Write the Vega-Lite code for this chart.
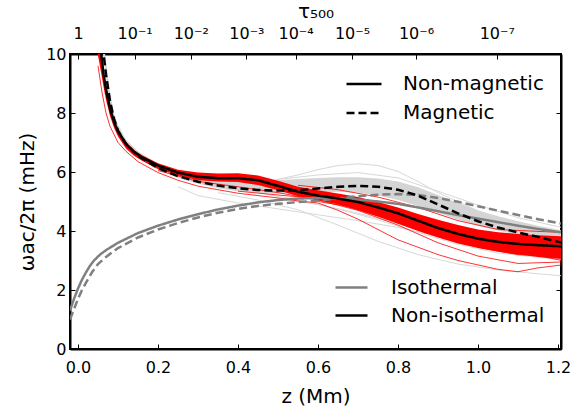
{
  "$schema": "https://vega.github.io/schema/vega-lite/v6.json",
  "width": 491,
  "height": 295,
  "autosize": {"type": "none"},
  "padding": {"left": 70, "top": 54, "right": 12, "bottom": 60},
  "background": "white",
  "config": {
    "font": "DejaVu Sans",
    "view": {"stroke": "black", "strokeWidth": 2},
    "axis": {"grid": false, "domainColor": "black", "domainWidth": 2, "tickColor": "black", "tickWidth": 1, "tickSize": -5, "labelColor": "black", "titleColor": "black", "labelFontSize": 16, "titleFontSize": 20, "titleFontWeight": "normal", "labelFont": "DejaVu Sans", "titleFont": "DejaVu Sans", "labelFlush": false, "labelOverlap": false},
    "legend": {"labelFontSize": 20, "labelFont": "DejaVu Sans", "labelColor": "black", "symbolType": "stroke", "symbolStrokeWidth": 2.5, "padding": 0, "offset": 0}
  },
  "datasets": {
    "thick": [
      {"z": 0.045, "w": 11.5, "atm": "Non-isothermal", "field": "Non-magnetic"},
      {"z": 0.052, "w": 10.6, "atm": "Non-isothermal", "field": "Non-magnetic"},
      {"z": 0.058, "w": 10.0, "atm": "Non-isothermal", "field": "Non-magnetic"},
      {"z": 0.064, "w": 9.3, "atm": "Non-isothermal", "field": "Non-magnetic"},
      {"z": 0.07, "w": 8.8, "atm": "Non-isothermal", "field": "Non-magnetic"},
      {"z": 0.08, "w": 8.15, "atm": "Non-isothermal", "field": "Non-magnetic"},
      {"z": 0.09, "w": 7.7, "atm": "Non-isothermal", "field": "Non-magnetic"},
      {"z": 0.1, "w": 7.38, "atm": "Non-isothermal", "field": "Non-magnetic"},
      {"z": 0.12, "w": 6.95, "atm": "Non-isothermal", "field": "Non-magnetic"},
      {"z": 0.14, "w": 6.68, "atm": "Non-isothermal", "field": "Non-magnetic"},
      {"z": 0.16, "w": 6.5, "atm": "Non-isothermal", "field": "Non-magnetic"},
      {"z": 0.2, "w": 6.22, "atm": "Non-isothermal", "field": "Non-magnetic"},
      {"z": 0.25, "w": 5.98, "atm": "Non-isothermal", "field": "Non-magnetic"},
      {"z": 0.3, "w": 5.84, "atm": "Non-isothermal", "field": "Non-magnetic"},
      {"z": 0.35, "w": 5.79, "atm": "Non-isothermal", "field": "Non-magnetic"},
      {"z": 0.4, "w": 5.79, "atm": "Non-isothermal", "field": "Non-magnetic"},
      {"z": 0.45, "w": 5.72, "atm": "Non-isothermal", "field": "Non-magnetic"},
      {"z": 0.5, "w": 5.53, "atm": "Non-isothermal", "field": "Non-magnetic"},
      {"z": 0.55, "w": 5.33, "atm": "Non-isothermal", "field": "Non-magnetic"},
      {"z": 0.6, "w": 5.2, "atm": "Non-isothermal", "field": "Non-magnetic"},
      {"z": 0.65, "w": 5.1, "atm": "Non-isothermal", "field": "Non-magnetic"},
      {"z": 0.7, "w": 4.98, "atm": "Non-isothermal", "field": "Non-magnetic"},
      {"z": 0.75, "w": 4.8, "atm": "Non-isothermal", "field": "Non-magnetic"},
      {"z": 0.8, "w": 4.6, "atm": "Non-isothermal", "field": "Non-magnetic"},
      {"z": 0.85, "w": 4.35, "atm": "Non-isothermal", "field": "Non-magnetic"},
      {"z": 0.9, "w": 4.1, "atm": "Non-isothermal", "field": "Non-magnetic"},
      {"z": 0.95, "w": 3.9, "atm": "Non-isothermal", "field": "Non-magnetic"},
      {"z": 1.0, "w": 3.74, "atm": "Non-isothermal", "field": "Non-magnetic"},
      {"z": 1.05, "w": 3.63, "atm": "Non-isothermal", "field": "Non-magnetic"},
      {"z": 1.1, "w": 3.56, "atm": "Non-isothermal", "field": "Non-magnetic"},
      {"z": 1.15, "w": 3.52, "atm": "Non-isothermal", "field": "Non-magnetic"},
      {"z": 1.21, "w": 3.48, "atm": "Non-isothermal", "field": "Non-magnetic"},

      {"z": 0.05, "w": 11.5, "atm": "Non-isothermal", "field": "Magnetic"},
      {"z": 0.058, "w": 10.7, "atm": "Non-isothermal", "field": "Magnetic"},
      {"z": 0.064, "w": 10.0, "atm": "Non-isothermal", "field": "Magnetic"},
      {"z": 0.07, "w": 9.3, "atm": "Non-isothermal", "field": "Magnetic"},
      {"z": 0.08, "w": 8.4, "atm": "Non-isothermal", "field": "Magnetic"},
      {"z": 0.09, "w": 7.8, "atm": "Non-isothermal", "field": "Magnetic"},
      {"z": 0.1, "w": 7.4, "atm": "Non-isothermal", "field": "Magnetic"},
      {"z": 0.12, "w": 6.95, "atm": "Non-isothermal", "field": "Magnetic"},
      {"z": 0.15, "w": 6.55, "atm": "Non-isothermal", "field": "Magnetic"},
      {"z": 0.2, "w": 6.13, "atm": "Non-isothermal", "field": "Magnetic"},
      {"z": 0.25, "w": 5.86, "atm": "Non-isothermal", "field": "Magnetic"},
      {"z": 0.3, "w": 5.67, "atm": "Non-isothermal", "field": "Magnetic"},
      {"z": 0.35, "w": 5.54, "atm": "Non-isothermal", "field": "Magnetic"},
      {"z": 0.4, "w": 5.45, "atm": "Non-isothermal", "field": "Magnetic"},
      {"z": 0.45, "w": 5.39, "atm": "Non-isothermal", "field": "Magnetic"},
      {"z": 0.5, "w": 5.37, "atm": "Non-isothermal", "field": "Magnetic"},
      {"z": 0.55, "w": 5.38, "atm": "Non-isothermal", "field": "Magnetic"},
      {"z": 0.6, "w": 5.44, "atm": "Non-isothermal", "field": "Magnetic"},
      {"z": 0.65, "w": 5.5, "atm": "Non-isothermal", "field": "Magnetic"},
      {"z": 0.7, "w": 5.53, "atm": "Non-isothermal", "field": "Magnetic"},
      {"z": 0.75, "w": 5.5, "atm": "Non-isothermal", "field": "Magnetic"},
      {"z": 0.8, "w": 5.4, "atm": "Non-isothermal", "field": "Magnetic"},
      {"z": 0.85, "w": 5.2, "atm": "Non-isothermal", "field": "Magnetic"},
      {"z": 0.9, "w": 4.9, "atm": "Non-isothermal", "field": "Magnetic"},
      {"z": 0.95, "w": 4.6, "atm": "Non-isothermal", "field": "Magnetic"},
      {"z": 1.0, "w": 4.33, "atm": "Non-isothermal", "field": "Magnetic"},
      {"z": 1.05, "w": 4.12, "atm": "Non-isothermal", "field": "Magnetic"},
      {"z": 1.1, "w": 3.95, "atm": "Non-isothermal", "field": "Magnetic"},
      {"z": 1.15, "w": 3.8, "atm": "Non-isothermal", "field": "Magnetic"},
      {"z": 1.21, "w": 3.6, "atm": "Non-isothermal", "field": "Magnetic"}
    ],
    "iso": [
      {"z": -0.02, "w": 1.3, "atm": "Isothermal", "field": "Non-magnetic"},
      {"z": -0.01, "w": 1.7, "atm": "Isothermal", "field": "Non-magnetic"},
      {"z": 0.0, "w": 2.05, "atm": "Isothermal", "field": "Non-magnetic"},
      {"z": 0.01, "w": 2.35, "atm": "Isothermal", "field": "Non-magnetic"},
      {"z": 0.02, "w": 2.6, "atm": "Isothermal", "field": "Non-magnetic"},
      {"z": 0.03, "w": 2.82, "atm": "Isothermal", "field": "Non-magnetic"},
      {"z": 0.04, "w": 3.0, "atm": "Isothermal", "field": "Non-magnetic"},
      {"z": 0.055, "w": 3.2, "atm": "Isothermal", "field": "Non-magnetic"},
      {"z": 0.07, "w": 3.35, "atm": "Isothermal", "field": "Non-magnetic"},
      {"z": 0.1, "w": 3.6, "atm": "Isothermal", "field": "Non-magnetic"},
      {"z": 0.15, "w": 3.93, "atm": "Isothermal", "field": "Non-magnetic"},
      {"z": 0.2, "w": 4.18, "atm": "Isothermal", "field": "Non-magnetic"},
      {"z": 0.25, "w": 4.39, "atm": "Isothermal", "field": "Non-magnetic"},
      {"z": 0.3, "w": 4.57, "atm": "Isothermal", "field": "Non-magnetic"},
      {"z": 0.35, "w": 4.73, "atm": "Isothermal", "field": "Non-magnetic"},
      {"z": 0.4, "w": 4.86, "atm": "Isothermal", "field": "Non-magnetic"},
      {"z": 0.45, "w": 4.97, "atm": "Isothermal", "field": "Non-magnetic"},
      {"z": 0.5, "w": 5.05, "atm": "Isothermal", "field": "Non-magnetic"},
      {"z": 0.55, "w": 5.1, "atm": "Isothermal", "field": "Non-magnetic"},
      {"z": 0.6, "w": 5.12, "atm": "Isothermal", "field": "Non-magnetic"},
      {"z": 0.65, "w": 5.11, "atm": "Isothermal", "field": "Non-magnetic"},
      {"z": 0.7, "w": 5.07, "atm": "Isothermal", "field": "Non-magnetic"},
      {"z": 0.75, "w": 5.0, "atm": "Isothermal", "field": "Non-magnetic"},
      {"z": 0.8, "w": 4.92, "atm": "Isothermal", "field": "Non-magnetic"},
      {"z": 0.85, "w": 4.8, "atm": "Isothermal", "field": "Non-magnetic"},
      {"z": 0.9, "w": 4.67, "atm": "Isothermal", "field": "Non-magnetic"},
      {"z": 0.95, "w": 4.54, "atm": "Isothermal", "field": "Non-magnetic"},
      {"z": 1.0, "w": 4.42, "atm": "Isothermal", "field": "Non-magnetic"},
      {"z": 1.05, "w": 4.3, "atm": "Isothermal", "field": "Non-magnetic"},
      {"z": 1.1, "w": 4.18, "atm": "Isothermal", "field": "Non-magnetic"},
      {"z": 1.15, "w": 4.07, "atm": "Isothermal", "field": "Non-magnetic"},
      {"z": 1.21, "w": 3.95, "atm": "Isothermal", "field": "Non-magnetic"},

      {"z": -0.02, "w": 1.0, "atm": "Isothermal", "field": "Magnetic"},
      {"z": -0.01, "w": 1.35, "atm": "Isothermal", "field": "Magnetic"},
      {"z": 0.0, "w": 1.7, "atm": "Isothermal", "field": "Magnetic"},
      {"z": 0.01, "w": 2.0, "atm": "Isothermal", "field": "Magnetic"},
      {"z": 0.02, "w": 2.25, "atm": "Isothermal", "field": "Magnetic"},
      {"z": 0.035, "w": 2.6, "atm": "Isothermal", "field": "Magnetic"},
      {"z": 0.05, "w": 2.88, "atm": "Isothermal", "field": "Magnetic"},
      {"z": 0.07, "w": 3.12, "atm": "Isothermal", "field": "Magnetic"},
      {"z": 0.1, "w": 3.42, "atm": "Isothermal", "field": "Magnetic"},
      {"z": 0.15, "w": 3.78, "atm": "Isothermal", "field": "Magnetic"},
      {"z": 0.2, "w": 4.05, "atm": "Isothermal", "field": "Magnetic"},
      {"z": 0.25, "w": 4.27, "atm": "Isothermal", "field": "Magnetic"},
      {"z": 0.3, "w": 4.46, "atm": "Isothermal", "field": "Magnetic"},
      {"z": 0.35, "w": 4.62, "atm": "Isothermal", "field": "Magnetic"},
      {"z": 0.4, "w": 4.75, "atm": "Isothermal", "field": "Magnetic"},
      {"z": 0.45, "w": 4.85, "atm": "Isothermal", "field": "Magnetic"},
      {"z": 0.5, "w": 4.92, "atm": "Isothermal", "field": "Magnetic"},
      {"z": 0.55, "w": 4.98, "atm": "Isothermal", "field": "Magnetic"},
      {"z": 0.6, "w": 5.03, "atm": "Isothermal", "field": "Magnetic"},
      {"z": 0.65, "w": 5.1, "atm": "Isothermal", "field": "Magnetic"},
      {"z": 0.7, "w": 5.18, "atm": "Isothermal", "field": "Magnetic"},
      {"z": 0.75, "w": 5.23, "atm": "Isothermal", "field": "Magnetic"},
      {"z": 0.8, "w": 5.25, "atm": "Isothermal", "field": "Magnetic"},
      {"z": 0.85, "w": 5.22, "atm": "Isothermal", "field": "Magnetic"},
      {"z": 0.9, "w": 5.12, "atm": "Isothermal", "field": "Magnetic"},
      {"z": 0.95, "w": 4.99, "atm": "Isothermal", "field": "Magnetic"},
      {"z": 1.0, "w": 4.84, "atm": "Isothermal", "field": "Magnetic"},
      {"z": 1.05, "w": 4.69, "atm": "Isothermal", "field": "Magnetic"},
      {"z": 1.1, "w": 4.54, "atm": "Isothermal", "field": "Magnetic"},
      {"z": 1.15, "w": 4.4, "atm": "Isothermal", "field": "Magnetic"},
      {"z": 1.21, "w": 4.25, "atm": "Isothermal", "field": "Magnetic"}
    ],
    "redband": [
      {"z": 0.042, "lo": 10.8, "hi": 11.6}, {"z": 0.05, "lo": 9.95, "hi": 10.6}, {"z": 0.058, "lo": 9.35, "hi": 9.95},
      {"z": 0.065, "lo": 8.8, "hi": 9.35}, {"z": 0.07, "lo": 8.45, "hi": 8.95}, {"z": 0.08, "lo": 7.9, "hi": 8.3},
      {"z": 0.09, "lo": 7.5, "hi": 7.8}, {"z": 0.1, "lo": 7.2, "hi": 7.45}, {"z": 0.12, "lo": 6.8, "hi": 7.02},
      {"z": 0.14, "lo": 6.55, "hi": 6.75}, {"z": 0.16, "lo": 6.38, "hi": 6.57}, {"z": 0.2, "lo": 6.1, "hi": 6.3},
      {"z": 0.25, "lo": 5.88, "hi": 6.08}, {"z": 0.3, "lo": 5.72, "hi": 5.98}, {"z": 0.35, "lo": 5.68, "hi": 5.95},
      {"z": 0.4, "lo": 5.66, "hi": 5.96}, {"z": 0.45, "lo": 5.56, "hi": 5.88}, {"z": 0.5, "lo": 5.38, "hi": 5.7},
      {"z": 0.55, "lo": 5.18, "hi": 5.5}, {"z": 0.6, "lo": 5.04, "hi": 5.38}, {"z": 0.65, "lo": 4.9, "hi": 5.27},
      {"z": 0.7, "lo": 4.7, "hi": 5.15}, {"z": 0.75, "lo": 4.48, "hi": 4.98}, {"z": 0.8, "lo": 4.25, "hi": 4.8},
      {"z": 0.85, "lo": 4.0, "hi": 4.58}, {"z": 0.9, "lo": 3.78, "hi": 4.38}, {"z": 0.95, "lo": 3.58, "hi": 4.2},
      {"z": 1.0, "lo": 3.42, "hi": 4.05}, {"z": 1.05, "lo": 3.3, "hi": 3.96}, {"z": 1.1, "lo": 3.2, "hi": 3.9},
      {"z": 1.15, "lo": 3.12, "hi": 3.86}, {"z": 1.21, "lo": 3.05, "hi": 3.82}
    ],
    "grayband": [
      {"z": 0.045, "lo": 11.2, "hi": 12.0}, {"z": 0.058, "lo": 10.3, "hi": 11.0}, {"z": 0.065, "lo": 9.8, "hi": 10.3},
      {"z": 0.07, "lo": 9.2, "hi": 9.75}, {"z": 0.08, "lo": 8.25, "hi": 8.7}, {"z": 0.09, "lo": 7.7, "hi": 8.0},
      {"z": 0.1, "lo": 7.3, "hi": 7.6}, {"z": 0.12, "lo": 6.88, "hi": 7.1}, {"z": 0.15, "lo": 6.48, "hi": 6.7},
      {"z": 0.2, "lo": 6.07, "hi": 6.28}, {"z": 0.25, "lo": 5.8, "hi": 6.02}, {"z": 0.3, "lo": 5.6, "hi": 5.85},
      {"z": 0.35, "lo": 5.45, "hi": 5.75}, {"z": 0.4, "lo": 5.35, "hi": 5.7}, {"z": 0.45, "lo": 5.28, "hi": 5.7},
      {"z": 0.5, "lo": 5.27, "hi": 5.72}, {"z": 0.55, "lo": 5.28, "hi": 5.76}, {"z": 0.6, "lo": 5.3, "hi": 5.8},
      {"z": 0.65, "lo": 5.33, "hi": 5.82}, {"z": 0.7, "lo": 5.3, "hi": 5.82}, {"z": 0.75, "lo": 5.2, "hi": 5.78},
      {"z": 0.8, "lo": 5.05, "hi": 5.68}, {"z": 0.85, "lo": 4.85, "hi": 5.48}, {"z": 0.9, "lo": 4.62, "hi": 5.22},
      {"z": 0.95, "lo": 4.38, "hi": 4.95}, {"z": 1.0, "lo": 4.18, "hi": 4.7}, {"z": 1.05, "lo": 4.02, "hi": 4.5},
      {"z": 1.1, "lo": 3.87, "hi": 4.33}, {"z": 1.15, "lo": 3.72, "hi": 4.18}, {"z": 1.21, "lo": 3.55, "hi": 4.02}
    ],
    "redthin": [
      {"id": "r1", "z": 0.05, "w": 9.6}, {"id": "r1", "z": 0.06, "w": 8.7}, {"id": "r1", "z": 0.07, "w": 8.0},
      {"id": "r1", "z": 0.08, "w": 7.55}, {"id": "r1", "z": 0.1, "w": 7.0}, {"id": "r1", "z": 0.12, "w": 6.7},
      {"id": "r1", "z": 0.15, "w": 6.35}, {"id": "r1", "z": 0.2, "w": 5.98}, {"id": "r1", "z": 0.25, "w": 5.72},
      {"id": "r1", "z": 0.3, "w": 5.52}, {"id": "r1", "z": 0.4, "w": 5.28}, {"id": "r1", "z": 0.5, "w": 5.12},
      {"id": "r1", "z": 0.55, "w": 5.02}, {"id": "r1", "z": 0.6, "w": 4.95}, {"id": "r1", "z": 0.65, "w": 4.7},
      {"id": "r1", "z": 0.7, "w": 4.4}, {"id": "r1", "z": 0.75, "w": 4.05}, {"id": "r1", "z": 0.8, "w": 3.7},
      {"id": "r1", "z": 0.85, "w": 3.45}, {"id": "r1", "z": 0.9, "w": 3.2}, {"id": "r1", "z": 0.95, "w": 3.0},
      {"id": "r1", "z": 1.0, "w": 2.85}, {"id": "r1", "z": 1.05, "w": 2.7}, {"id": "r1", "z": 1.1, "w": 2.62},
      {"id": "r1", "z": 1.15, "w": 2.75}, {"id": "r1", "z": 1.21, "w": 2.85},
      {"id": "r2", "z": 0.2, "w": 6.05}, {"id": "r2", "z": 0.3, "w": 5.68}, {"id": "r2", "z": 0.4, "w": 5.5},
      {"id": "r2", "z": 0.5, "w": 5.3}, {"id": "r2", "z": 0.6, "w": 5.05}, {"id": "r2", "z": 0.7, "w": 4.7},
      {"id": "r2", "z": 0.8, "w": 4.2}, {"id": "r2", "z": 0.9, "w": 3.6}, {"id": "r2", "z": 1.0, "w": 3.15},
      {"id": "r2", "z": 1.1, "w": 2.9}, {"id": "r2", "z": 1.21, "w": 2.95},
      {"id": "r3", "z": 0.5, "w": 5.42}, {"id": "r3", "z": 0.6, "w": 5.15}, {"id": "r3", "z": 0.7, "w": 4.85},
      {"id": "r3", "z": 0.8, "w": 4.45}, {"id": "r3", "z": 0.9, "w": 3.95}, {"id": "r3", "z": 1.0, "w": 3.45},
      {"id": "r3", "z": 1.1, "w": 3.2}, {"id": "r3", "z": 1.21, "w": 3.15},
      {"id": "r4", "z": 0.4, "w": 5.35}, {"id": "r4", "z": 0.5, "w": 5.22}, {"id": "r4", "z": 0.6, "w": 5.1},
      {"id": "r4", "z": 0.7, "w": 4.95}, {"id": "r4", "z": 0.8, "w": 4.6}, {"id": "r4", "z": 0.9, "w": 4.15},
      {"id": "r4", "z": 1.0, "w": 3.7}, {"id": "r4", "z": 1.1, "w": 3.4}, {"id": "r4", "z": 1.21, "w": 3.3},
      {"id": "r5", "z": 0.55, "w": 5.55}, {"id": "r5", "z": 0.65, "w": 5.4}, {"id": "r5", "z": 0.75, "w": 5.15},
      {"id": "r5", "z": 0.85, "w": 4.8}, {"id": "r5", "z": 0.95, "w": 4.35}, {"id": "r5", "z": 1.05, "w": 4.05},
      {"id": "r5", "z": 1.21, "w": 3.95},
      {"id": "r6", "z": 0.6, "w": 5.0}, {"id": "r6", "z": 0.7, "w": 4.78}, {"id": "r6", "z": 0.8, "w": 4.35},
      {"id": "r6", "z": 0.9, "w": 3.85}, {"id": "r6", "z": 1.0, "w": 3.5}, {"id": "r6", "z": 1.1, "w": 3.3},
      {"id": "r6", "z": 1.21, "w": 3.0}
    ],
    "graythin": [
      {"id": "g1", "z": 0.4, "w": 5.5}, {"id": "g1", "z": 0.45, "w": 5.6}, {"id": "g1", "z": 0.5, "w": 5.75},
      {"id": "g1", "z": 0.55, "w": 5.9}, {"id": "g1", "z": 0.6, "w": 6.08}, {"id": "g1", "z": 0.65, "w": 6.22},
      {"id": "g1", "z": 0.7, "w": 6.28}, {"id": "g1", "z": 0.75, "w": 6.22}, {"id": "g1", "z": 0.8, "w": 6.02},
      {"id": "g1", "z": 0.85, "w": 5.68}, {"id": "g1", "z": 0.9, "w": 5.3}, {"id": "g1", "z": 1.0, "w": 4.68},
      {"id": "g1", "z": 1.1, "w": 4.18}, {"id": "g1", "z": 1.21, "w": 3.8},
      {"id": "g2", "z": 0.5, "w": 5.75}, {"id": "g2", "z": 0.6, "w": 5.9}, {"id": "g2", "z": 0.7, "w": 5.98},
      {"id": "g2", "z": 0.8, "w": 5.8}, {"id": "g2", "z": 0.9, "w": 5.35}, {"id": "g2", "z": 1.0, "w": 4.88},
      {"id": "g2", "z": 1.1, "w": 4.45}, {"id": "g2", "z": 1.21, "w": 4.12},
      {"id": "g3", "z": 0.25, "w": 5.5}, {"id": "g3", "z": 0.3, "w": 5.2}, {"id": "g3", "z": 0.4, "w": 4.95},
      {"id": "g3", "z": 0.5, "w": 4.75}, {"id": "g3", "z": 0.6, "w": 4.55}, {"id": "g3", "z": 0.7, "w": 4.35},
      {"id": "g3", "z": 0.8, "w": 4.12}, {"id": "g3", "z": 0.9, "w": 3.82}, {"id": "g3", "z": 1.0, "w": 3.48},
      {"id": "g3", "z": 1.1, "w": 3.18}, {"id": "g3", "z": 1.21, "w": 3.02},
      {"id": "g4", "z": 0.35, "w": 5.3}, {"id": "g4", "z": 0.45, "w": 5.05}, {"id": "g4", "z": 0.55, "w": 4.72},
      {"id": "g4", "z": 0.65, "w": 4.2}, {"id": "g4", "z": 0.75, "w": 3.65}, {"id": "g4", "z": 0.85, "w": 3.2},
      {"id": "g4", "z": 0.95, "w": 2.88}, {"id": "g4", "z": 1.05, "w": 2.68}, {"id": "g4", "z": 1.15, "w": 2.55},
      {"id": "g4", "z": 1.21, "w": 2.48},
      {"id": "g5", "z": 0.45, "w": 5.3}, {"id": "g5", "z": 0.55, "w": 5.05}, {"id": "g5", "z": 0.65, "w": 4.75},
      {"id": "g5", "z": 0.75, "w": 4.38}, {"id": "g5", "z": 0.85, "w": 3.95}, {"id": "g5", "z": 0.95, "w": 3.55},
      {"id": "g5", "z": 1.05, "w": 3.25}, {"id": "g5", "z": 1.15, "w": 3.12}, {"id": "g5", "z": 1.21, "w": 3.1},
      {"id": "g6", "z": 0.5, "w": 5.1}, {"id": "g6", "z": 0.6, "w": 4.9}, {"id": "g6", "z": 0.7, "w": 4.6},
      {"id": "g6", "z": 0.8, "w": 4.25}, {"id": "g6", "z": 0.9, "w": 3.9}, {"id": "g6", "z": 1.0, "w": 3.7},
      {"id": "g6", "z": 1.1, "w": 3.55}, {"id": "g6", "z": 1.21, "w": 3.35}
    ]
  },
  "resolve": {"axis": {"x": "independent", "y": "independent"}},
  "layer": [
    {
      "data": {"name": "grayband"},
      "mark": {"type": "area", "color": "#d4d4d4", "clip": true, "orient": "vertical"},
      "encoding": {
        "x": {"field": "z", "type": "quantitative", "scale": {"domain": [-0.02, 1.2075], "nice": false, "zero": false},
              "axis": {"orient": "bottom", "title": "z (Mm)", "values": [0, 0.2, 0.4, 0.6, 0.8, 1.0, 1.2], "format": ".1f", "labelPadding": 15, "titlePadding": 11}},
        "y": {"field": "lo", "type": "quantitative", "scale": {"domain": [0, 10], "nice": false, "zero": false},
              "axis": {"orient": "left", "title": "ωac/2π (mHz)", "values": [0, 2, 4, 6, 8, 10], "labelPadding": 9, "titlePadding": 8}},
        "y2": {"field": "hi"}
      }
    },
    {
      "data": {"name": "graythin"},
      "mark": {"type": "line", "color": "#d8d8d8", "strokeWidth": 1, "clip": true},
      "encoding": {
        "x": {"field": "z", "type": "quantitative", "scale": {"domain": [-0.02, 1.2075], "nice": false, "zero": false},
              "axis": {"orient": "top", "title": "τ₅₀₀", "titleFontSize": 20, "titlePadding": 4, "labelPadding": 18,
                       "values": [0, 0.1416, 0.282, 0.421, 0.544, 0.685, 0.845, 1.047],
                       "labelExpr": "datum.value < 0.07 ? '1' : datum.value < 0.2 ? '10⁻¹' : datum.value < 0.35 ? '10⁻²' : datum.value < 0.48 ? '10⁻³' : datum.value < 0.6 ? '10⁻⁴' : datum.value < 0.75 ? '10⁻⁵' : datum.value < 0.95 ? '10⁻⁶' : '10⁻⁷'"}},
        "y": {"field": "w", "type": "quantitative", "scale": {"domain": [0, 10], "nice": false, "zero": false},
              "axis": {"orient": "right", "labels": false, "title": null, "values": [0, 2, 4, 6, 8, 10]}},
        "detail": {"field": "id"}
      }
    },
    {
      "data": {"name": "redband"},
      "mark": {"type": "area", "color": "#ff0000", "clip": true, "orient": "vertical"},
      "encoding": {
        "x": {"field": "z", "type": "quantitative", "scale": {"domain": [-0.02, 1.2075], "nice": false, "zero": false}, "axis": null},
        "y": {"field": "lo", "type": "quantitative", "scale": {"domain": [0, 10], "nice": false, "zero": false}, "axis": null},
        "y2": {"field": "hi"}
      }
    },
    {
      "data": {"name": "redthin"},
      "mark": {"type": "line", "color": "#ff0000", "strokeWidth": 1, "opacity": 0.8, "clip": true},
      "encoding": {
        "x": {"field": "z", "type": "quantitative", "scale": {"domain": [-0.02, 1.2075], "nice": false, "zero": false}, "axis": null},
        "y": {"field": "w", "type": "quantitative", "scale": {"domain": [0, 10], "nice": false, "zero": false}, "axis": null},
        "detail": {"field": "id"}
      }
    },
    {
      "data": {"name": "iso"},
      "mark": {"type": "line", "strokeWidth": 2.5, "clip": true},
      "encoding": {
        "x": {"field": "z", "type": "quantitative", "scale": {"domain": [-0.02, 1.2075], "nice": false, "zero": false}, "axis": null},
        "y": {"field": "w", "type": "quantitative", "scale": {"domain": [0, 10], "nice": false, "zero": false}, "axis": null},
        "color": {"field": "atm", "type": "nominal", "scale": {"domain": ["Isothermal", "Non-isothermal"], "range": ["#808080", "#000000"]},
                  "legend": {"title": null, "orient": "none", "legendX": 264, "legendY": 216, "symbolSize": 1024, "labelOffset": 22, "rowPadding": 0}},
        "strokeDash": {"field": "field", "type": "nominal", "scale": {"domain": ["Non-magnetic", "Magnetic"], "range": [[1, 0], [8, 4]]},
                       "legend": {"title": null, "orient": "none", "legendX": 275, "legendY": 11, "symbolSize": 1225, "labelOffset": 20, "rowPadding": 0, "symbolStrokeColor": "black"}}
      }
    },
    {
      "data": {"name": "thick"},
      "mark": {"type": "line", "strokeWidth": 2.5, "clip": true},
      "encoding": {
        "x": {"field": "z", "type": "quantitative", "scale": {"domain": [-0.02, 1.2075], "nice": false, "zero": false}, "axis": null},
        "y": {"field": "w", "type": "quantitative", "scale": {"domain": [0, 10], "nice": false, "zero": false}, "axis": null},
        "color": {"field": "atm", "type": "nominal"},
        "strokeDash": {"field": "field", "type": "nominal"}
      }
    }
  ]
}
